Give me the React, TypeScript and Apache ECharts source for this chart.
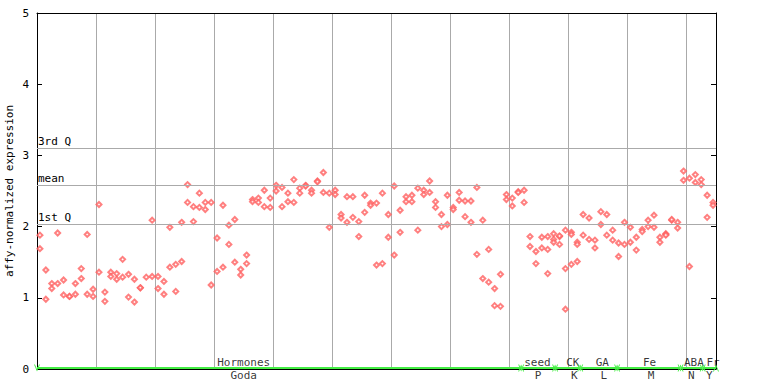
import React, { useEffect, useRef } from "react";
import * as echarts from "echarts";

// values per sample (replicates)
const hormonesValues: number[][] = [
  [1.88, 1.69], [1.39, 0.98], [1.20, 1.13], [1.91, 1.20], [1.25, 1.04],
  [1.02, 1.02], [1.20, 1.05], [1.41, 1.27], [1.89, 1.05], [1.12, 1.02],
  [2.31, 1.36], [1.08, 0.95], [1.36, 1.30], [1.34, 1.26], [1.54, 1.29],
  [1.33, 1.01], [1.26, 0.94], [1.14, 1.14], [1.29], [2.09, 1.30],
  [1.30, 1.13], [1.23, 1.05], [1.99, 1.43], [1.47, 1.09], [2.06, 1.51],
  [2.59, 2.34], [2.28, 2.07], [2.47, 2.27], [2.34, 2.24], [2.34, 1.18],
  [1.84, 1.37], [2.30, 1.43], [2.02, 1.75], [2.10, 1.50], [1.40, 1.32],
  [1.60, 1.48], [2.38, 2.35], [2.40, 2.34], [2.51, 2.28], [2.40, 2.27],
  [2.58, 2.50], [2.55, 2.28], [2.47, 2.35], [2.66, 2.34], [2.54, 2.47],
  [2.58, 2.57], [2.51, 2.47], [2.64, 2.63], [2.76, 2.48], [2.47, 1.99],
  [2.51, 2.45], [2.17, 2.12], [2.42, 2.06], [2.42, 2.13], [2.07, 1.86],
  [2.44, 2.20], [2.33, 2.30], [2.33, 1.46], [2.47, 1.48], [2.17, 1.85],
  [2.57, 1.60], [2.23, 1.92], [2.42, 2.35], [2.44, 2.35], [2.54, 1.95],
  [2.51, 2.45], [2.64, 2.48], [2.35, 2.27], [2.17, 2.00], [2.44, 2.03],
  [2.27, 2.24], [2.48, 2.37], [2.36, 2.14], [2.36, 2.06], [2.55, 1.61],
  [2.09, 1.27], [1.68, 1.22], [1.13, 0.89], [1.33, 0.88], [2.45, 2.38],
  [2.40, 2.29], [2.49, 2.48],
];
const seedValues: number[][] = [
  [2.51, 2.34], [1.86, 1.72], [1.65, 1.48], [1.85, 1.70], [1.86, 1.68, 1.34], [1.90, 1.82, 1.78],
];
const ckValues: number[][] = [
  [1.86, 1.87, 1.75], [1.95, 1.41, 0.84], [1.92, 1.89, 1.47], [1.78, 1.75, 1.51],
];
const gaValues: number[][] = [
  [2.17, 1.88], [2.12, 1.82], [1.81, 1.70], [2.21, 2.03], [2.17, 1.88], [1.95, 1.81],
];
const feValues: number[][] = [
  [1.77, 1.58], [2.06, 1.75], [1.99, 1.78], [1.85, 1.67], [1.96, 1.93], [2.09, 2.00],
  [2.16, 1.99], [1.85, 1.78], [1.90, 1.89, 1.88], [2.09, 2.10], [2.06, 1.98],
];
const abaValues: number[][] = [
  [2.78, 2.65], [2.68, 1.44], [2.73, 2.62], [2.66, 2.59],
];
const frValues: number[][] = [
  [2.44, 2.13], [2.34, 2.30],
];

const groupNames = ["Hormones", "seed", "CK", "GA", "Fe", "ABA", "Fr"];
const subNames = ["Goda", "P", "K", "L", "M", "N", "Y"];
const groupRanges = [
  [0, 164], [164, 175.5], [175.5, 184], [184, 196.5], [196.5, 218], [218, 225.5], [225.5, 230],
];
const groupLabelX = [70, 169.5, 181.5, 191.5, 207.5, 222.5, 229];
const subLabelX = [70, 169.7, 182, 192, 208, 221.6, 227.7];

const quartileValues = [2.03, 2.58, 3.1];
const quartileNames = ["1st Q", "mean", "3rd Q"];

const X_MAX = 230;
const Y_MAX = 5;

const FONT = '"DejaVu Sans Mono", monospace';

export default function App() {
  const ref = useRef<HTMLDivElement>(null);
  useEffect(() => {
    if (!ref.current) return;
    const chart = echarts.init(ref.current, null, { renderer: "svg" });

    const allGroups = [hormonesValues, seedValues, ckValues, gaValues, feValues, abaValues, frValues];
    const points: number[][] = [];
    let idx = 0;
    allGroups.forEach((g) =>
      g.forEach((sample) => {
        const x = 2 * idx + 1;
        sample.forEach((v) => points.push([x, v]));
        idx++;
      })
    );

    const chevron = "path://M10,0 L0,5 L10,10 L10,8.4 L3,5 L10,1.6 Z";

    chart.setOption({
      animation: false,
      grid: {
        left: 37, right: 52, top: 13, bottom: 15,
        containLabel: false, outerBoundsMode: "none",
      },
      xAxis: [
        {
          type: "value", min: 0, max: X_MAX, interval: 20,
          axisLine: { show: true, lineStyle: { color: "#000", width: 1 } },
          axisTick: { show: false }, axisLabel: { show: false },
          splitLine: { show: true, lineStyle: { color: "#aaaaaa", width: 1 } },
        },
        {
          type: "value", min: 0, max: X_MAX, position: "top",
          axisLine: { show: true, onZero: false, lineStyle: { color: "#000", width: 1 } },
          axisTick: { show: false }, axisLabel: { show: false }, splitLine: { show: false },
        },
      ],
      yAxis: [
        {
          type: "value", min: 0, max: Y_MAX, interval: 1,
          name: "affy-normalized expression", nameLocation: "middle", nameGap: 22,
          nameMoveOverlap: false,
          nameTextStyle: { fontFamily: FONT, fontSize: 11, color: "#000" },
          axisLine: { show: true, lineStyle: { color: "#000", width: 1 } },
          axisTick: { show: true, inside: true, length: 5, lineStyle: { color: "#000" } },
          axisLabel: { show: true, margin: 8, fontFamily: FONT, fontSize: 11, color: "#000" },
          splitLine: { show: false },
        },
        {
          type: "value", min: 0, max: Y_MAX, interval: 1, position: "right",
          axisLine: { show: true, onZero: false, lineStyle: { color: "#000", width: 1 } },
          axisTick: { show: true, inside: true, length: 5, lineStyle: { color: "#000" } },
          axisLabel: { show: false }, splitLine: { show: false },
        },
      ],
      series: [
        {
          type: "line",
          data: [],
          z: 1,
          markLine: {
            silent: true,
            symbol: "none",
            animation: false,
            lineStyle: { color: "#aaaaaa", width: 1, type: "solid" },
            label: {
              show: true, position: "insideStartTop", formatter: "{b}",
              color: "#000", fontFamily: FONT, fontSize: 11, distance: [1, 1],
            },
            data: quartileValues.map((v, i) => ({ yAxis: v, name: quartileNames[i] })),
          },
        },
        {
          type: "scatter",
          z: 3,
          symbol: "emptyDiamond",
          symbolSize: 5,
          itemStyle: { color: "#ff6060", borderWidth: 1 },
          data: points,
        },
        {
          type: "scatter",
          z: 4,
          symbolSize: 0,
          clip: false,
          data: groupLabelX.map((x) => [x, 0]),
          label: {
            show: true, position: "top", distance: 1,
            formatter: (p: any) => groupNames[p.dataIndex],
            color: "#000", fontFamily: FONT, fontSize: 11,
          },
          markLine: {
            silent: true,
            animation: false,
            symbol: [chevron, chevron],
            symbolSize: [7, 6],
            lineStyle: { color: "#44ee44", width: 2, type: "solid" },
            itemStyle: { color: "#44ee44" },
            label: { show: false },
            data: groupRanges.map((r) => [
              { coord: [r[0], 0.015] },
              { coord: [r[1], 0.015] },
            ]),
          },
        },
        {
          type: "scatter",
          z: 4,
          symbolSize: 0,
          clip: false,
          data: subLabelX.map((x) => [x, 0]),
          label: {
            show: true, position: "bottom", distance: 1,
            formatter: (p: any) => subNames[p.dataIndex],
            color: "#000", fontFamily: FONT, fontSize: 11,
          },
        },
      ],
    });
    return () => chart.dispose();
  }, []);
  return (
    <div
      ref={ref}
      style={{ position: "fixed", left: 0, top: 0, width: 768, height: 384, background: "#fff" }}
    />
  );
}
